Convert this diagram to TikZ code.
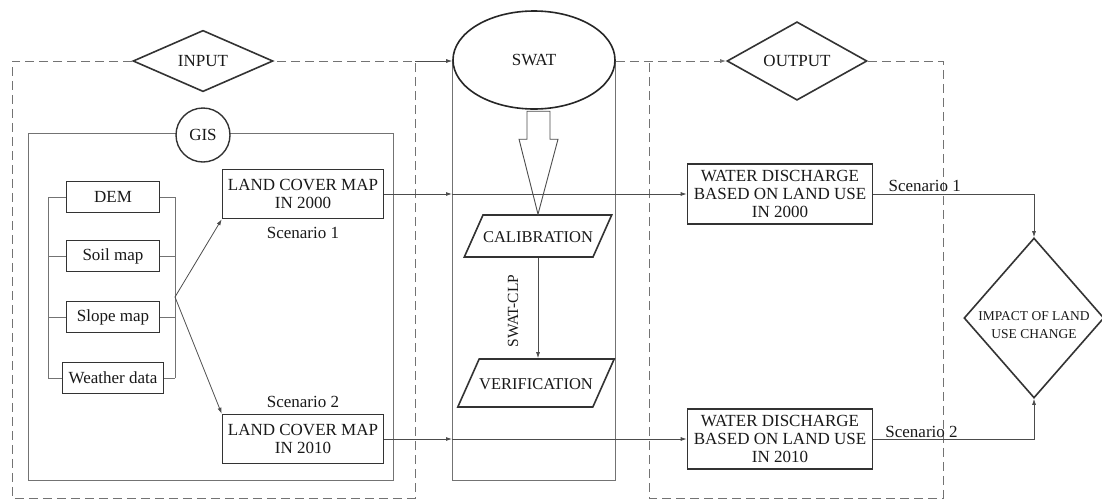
\documentclass[tikz,border=0pt]{standalone}
\usepackage{fontspec}
\setmainfont{Liberation Serif}
\usetikzlibrary{shapes.geometric,arrows.meta,positioning}
\tikzset{
  frame line/.style={draw=black!55, line width=1pt},
  dash frame/.style={draw=black!55, line width=1pt, dash pattern=on 9pt off 5pt},
  flow/.style={draw=black!70, line width=0.8pt, -{Latex[length=6pt,width=4pt]}},
  src box/.style={draw=black!80, fill=white, line width=1.6pt, minimum width=93pt, minimum height=31pt, inner sep=0pt},
  map box/.style={draw=black!80, fill=white, line width=1.6pt, minimum width=161pt, minimum height=49pt, inner sep=0pt, align=center},
  out box/.style={map box, minimum width=185pt, minimum height=60pt},
  tag diamond/.style={diamond, draw=black!80, fill=white, line width=1.6pt, minimum width=140pt, minimum height=60pt, inner sep=0pt},
  io shape/.style={trapezium, trapezium left angle=66, trapezium right angle=114, draw=black!80, fill=white, line width=1.6pt, inner xsep=0pt, inner ysep=15pt, text height=12pt, text depth=0pt, font=\fontsize{16.5}{18}\selectfont},
  hollow arrow/.style={draw=black!70, fill=white, line width=0.9pt, line join=miter},
}

\begin{document}
\begin{tikzpicture}[x=1pt, y=-1pt, every node/.style={font=\fontsize{17}{18}\selectfont, text=black!90}]
  \useasboundingbox (0,0) rectangle (1102,499);
  \coordinate (inR) at (415,61);
  \coordinate (outL) at (649,61);
  % plain frames
  \draw[frame line] (28,133) rectangle (393,480);
  \draw[frame line] (452,61) rectangle (615,480);
  \node[tag diamond] (input) at (203,61) {INPUT};
  \node[tag diamond] (output) at (797,61) {OUTPUT};
  \draw[dash frame] (input.west) -- (12,61) -- (12,498) -- (415,498) -- (inR) -- (input.east);
  \draw[dash frame] (output.east) -- (943,61) -- (943,498) -- (649,498) -- (outL);
  \node[circle, draw=black!80, fill=white, line width=1.4pt, minimum size=54pt, inner sep=0pt] (gis) at (203,135) {GIS};
  \node[ellipse, draw=black!85, fill=white, line width=1.6pt, minimum width=162pt, minimum height=98pt, inner sep=0pt] (swat) at (534,60) {SWAT};

  % GIS inputs
  \foreach \nm/\txt/\yy in {dem/DEM/197, soil/Soil map/256, slope/Slope map/317}
    \node[src box] (\nm) at (113,\yy) {\txt};
  \node[src box, minimum width=101pt] (weather) at (113,378) {Weather data};
  \coordinate (bl) at (48,0);
  \coordinate (br) at (175,0);
  \draw[frame line] (bl |- dem) -- (bl |- weather);
  \draw[frame line] (br |- dem) -- (br |- weather);
  \foreach \nm in {dem,soil,slope,weather}{
    \draw[frame line] (bl |- \nm) -- (\nm.west);
    \draw[frame line] (\nm.east) -- (br |- \nm);
  }
  \coordinate (fork) at (175,297);

  \node[map box] (lcm1) at (303,194) {LAND COVER MAP\\IN 2000};
  \node[map box] (lcm2) at (303,439) {LAND COVER MAP\\IN 2010};
  \node[below=4pt of lcm1] (sc1) {Scenario 1};
  \node[above=3pt of lcm2] (sc2) {Scenario 2};
  \draw[flow] (fork) -- (lcm1.south west);
  \draw[flow] (fork) -- (lcm2.north west);

  % SWAT column
  \node[io shape] (cal) at (538,236) {CALIBRATION};
  \node[io shape, inner ysep=18pt] (ver) at (536,383) {VERIFICATION};
  \draw[hollow arrow] (cal.north) -- ++(-19,-75) -- ++(8,0) -- ++(0,-28) -- ++(23,0) -- ++(0,28) -- ++(8,0) -- cycle;
  \draw[flow] (cal.south) -- (cal.south |- ver.north);
  \node[rotate=90, font=\fontsize{15.5}{16}\selectfont] (clp) at (513,311) {SWAT-CLP};

  % outputs
  \node[out box] (wd1) at (780,194) {WATER DISCHARGE\\BASED ON LAND USE\\IN 2000};
  \node[out box] (wd2) at (780,439) {WATER DISCHARGE\\BASED ON LAND USE\\IN 2010};
  \coordinate (swin1) at (452,194);
  \coordinate (swin2) at (452,439);
  \draw[flow] (inR) -- (swat.west |- inR);
  \draw[dash frame, -{Latex[length=6pt,width=4pt]}] (swat.east |- inR) -- (output.west);
  \draw[flow] (lcm1) -- (swin1);
  \draw[flow] (swin1) -- (wd1);
  \draw[flow] (lcm2) -- (swin2);
  \draw[flow] (swin2) -- (wd2);

  \node[diamond, draw=black!80, fill=white, line width=1.6pt, aspect=0.875, minimum width=140pt, minimum height=160pt, inner sep=0pt] (impact) at (1034,318) {};
  \node[align=center, font=\fontsize{13.5}{18}\selectfont] (impacttxt) at ([yshift=-7pt]impact.center) {IMPACT OF LAND\\USE CHANGE};
  \draw[flow] (wd1) -| node[pos=0.16, above, inner sep=2pt] (sl1) {Scenario 1} (impact);
  \draw[flow] (wd2) -| node[pos=0.15, above, inner sep=1pt] (sl2) {Scenario 2} (impact);
\end{tikzpicture}
\end{document}
